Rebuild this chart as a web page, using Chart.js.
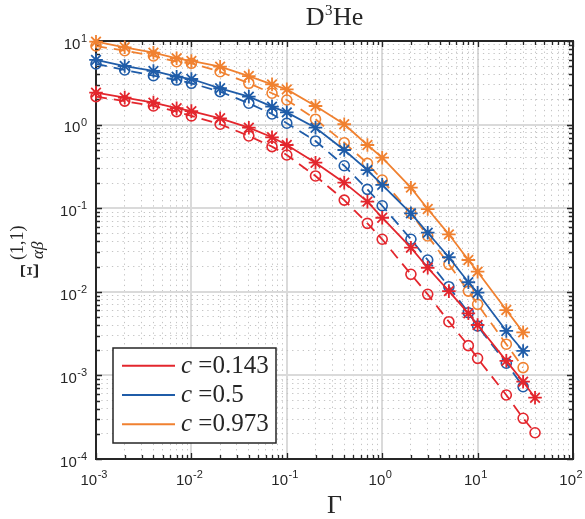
<!DOCTYPE html>
<html>
<head>
<meta charset="utf-8">
<script src="https://cdn.jsdelivr.net/npm/chart.js@4/dist/chart.umd.min.js"></script>
<style>
  html, body { margin: 0; padding: 0; background: #fff; }
  #wrap { width: 585px; height: 519px; }
</style>
</head>
<body>
<div id="wrap"><canvas id="chart" width="585" height="519"></canvas></div>
<script>
// Gamma values (x) for each family of curves
const gammaX = [0.001, 0.002, 0.004, 0.007, 0.01, 0.02, 0.04, 0.07, 0.1, 0.2, 0.4, 0.7, 1, 2, 3, 5, 8, 10, 20, 30];
const gammaXRed = [0.001, 0.002, 0.004, 0.007, 0.01, 0.02, 0.04, 0.07, 0.1, 0.2, 0.4, 0.7, 1, 2, 3, 5, 8, 10, 20, 30, 40];

// c = 0.143 (red)
const redStar = [2.41, 2.10, 1.83, 1.57, 1.45, 1.19, 0.918, 0.705, 0.570, 0.350, 0.202, 0.120, 0.0769, 0.0337, 0.0194, 0.0102, 0.00553, 0.00401, 0.00149, 0.000841, 0.000541];
const redCircle = [2.16, 1.91, 1.67, 1.43, 1.27, 1.01, 0.731, 0.545, 0.433, 0.243, 0.125, 0.0659, 0.0425, 0.0162, 0.00933, 0.00439, 0.00227, 0.00160, 0.000583, 0.000307, 0.000206];
// c = 0.5 (blue)
const blueStar = [5.93, 5.02, 4.38, 3.74, 3.51, 2.72, 2.16, 1.64, 1.40, 0.918, 0.497, 0.286, 0.190, 0.0869, 0.0509, 0.0259, 0.0130, 0.00975, 0.00340, 0.00196];
const blueCircle = [5.31, 4.50, 3.85, 3.41, 3.12, 2.48, 1.80, 1.34, 1.04, 0.637, 0.322, 0.168, 0.107, 0.0425, 0.0240, 0.0115, 0.00562, 0.00390, 0.00140, 0.000733];
// c = 0.973 (orange)
const orangeStar = [9.81, 8.41, 7.24, 6.21, 5.77, 4.93, 3.81, 3.03, 2.64, 1.67, 1.01, 0.570, 0.402, 0.176, 0.0977, 0.0487, 0.0240, 0.0174, 0.00605, 0.00327];
const orangeCircle = [8.71, 7.66, 6.62, 5.65, 5.41, 4.29, 3.12, 2.37, 1.97, 1.16, 0.607, 0.344, 0.217, 0.0869, 0.0465, 0.0213, 0.0102, 0.00708, 0.00236, 0.00124];

const legendLabels = ["0.143", "0.5", "0.973"];
const xDecades = [-3, -2, -1, 0, 1, 2];
const yDecades = [-4, -3, -2, -1, 0, 1];

const colors = { red: "#e3262d", blue: "#1f5ca8", orange: "#f08130" };
const ink = "#262626";

function points(xs, ys) {
  return ys.map((y, i) => ({ x: xs[i], y }));
}

function isMajor(v) {
  const l = Math.log10(v);
  return Math.abs(l - Math.round(l)) < 1e-9;
}

function logTicks(decades) {
  const ticks = [];
  decades.forEach((d, i) => {
    const last = i === decades.length - 1;
    for (let m = 1; m <= (last ? 1 : 9); m += 1) {
      ticks.push({ value: m * Math.pow(10, d), major: m === 1 });
    }
  });
  return ticks;
}

function starSet(label, xs, ys, color) {
  return {
    label, data: points(xs, ys), borderColor: color, backgroundColor: color,
    borderWidth: 1.8, pointStyle: "star", pointRadius: 6.8, pointBorderWidth: 1.8,
    pointBorderColor: color, tension: 0, clip: false,
  };
}

function circleSet(label, xs, ys, color) {
  return {
    label, data: points(xs, ys), borderColor: color, backgroundColor: "rgba(0,0,0,0)",
    borderWidth: 1.8, borderDash: [11, 7], pointStyle: "circle", pointRadius: 5,
    pointBorderWidth: 1.6, pointBorderColor: color, pointBackgroundColor: "rgba(0,0,0,0)",
    tension: 0, clip: false,
  };
}

function gridOptions() {
  return {
    drawTicks: false,
    color: (ctx) => (ctx.tick && isMajor(ctx.tick.value) ? "#dadada" : "#c4c4c4"),
    lineWidth: (ctx) => (ctx.tick && isMajor(ctx.tick.value) ? 2 : 1),
  };
}

function borderOptions() {
  return {
    display: false,
    dash: (ctx) => (ctx.tick && !isMajor(ctx.tick.value) ? [1.3, 4] : []),
  };
}

function drawPower(ctx, exp, x, y, mode) {
  ctx.font = '15px "Liberation Sans", Arial, sans-serif';
  const w10 = ctx.measureText("10").width;
  ctx.font = '11px "Liberation Sans", Arial, sans-serif';
  const wExp = ctx.measureText(String(exp)).width;
  const total = w10 + 0.5 + wExp;
  let start;
  let base;
  let supBase;
  if (mode === "y") {
    start = x - total;
    base = y + 7.7;
    supBase = y + 1;
  } else {
    start = x - total / 2 - 2;
    base = y;
    supBase = y - 6.8;
  }
  ctx.fillStyle = ink;
  ctx.textAlign = "left";
  ctx.textBaseline = "alphabetic";
  ctx.font = '15px "Liberation Sans", Arial, sans-serif';
  ctx.fillText("10", start, base);
  ctx.font = '11px "Liberation Sans", Arial, sans-serif';
  ctx.fillText(String(exp), start + w10 + 0.5, supBase);
}

const framePlugin = {
  id: "frame",
  beforeDatasetsDraw(chart) {
    const { ctx, chartArea: a, scales } = chart;
    ctx.save();
    ctx.strokeStyle = ink;
    ctx.lineWidth = 1.3;
    scales.x.ticks.forEach((t) => {
      const px = Math.round(scales.x.getPixelForValue(t.value)) + 0.5;
      const len = isMajor(t.value) ? 6 : 4;
      ctx.beginPath();
      ctx.moveTo(px, a.bottom); ctx.lineTo(px, a.bottom - len);
      ctx.moveTo(px, a.top); ctx.lineTo(px, a.top + len);
      ctx.stroke();
    });
    scales.y.ticks.forEach((t) => {
      const py = Math.round(scales.y.getPixelForValue(t.value)) + 0.5;
      const len = isMajor(t.value) ? 6 : 4;
      ctx.beginPath();
      ctx.moveTo(a.left, py); ctx.lineTo(a.left + len, py);
      ctx.moveTo(a.right, py); ctx.lineTo(a.right - len, py);
      ctx.stroke();
    });
    ctx.lineWidth = 2;
    ctx.strokeRect(a.left, a.top, a.right - a.left, a.bottom - a.top);
    ctx.restore();
  },
  afterDraw(chart) {
    const { ctx, chartArea: a, scales } = chart;
    ctx.save();
    xDecades.forEach((d) => drawPower(ctx, d, scales.x.getPixelForValue(Math.pow(10, d)), 484.5, "x"));
    yDecades.forEach((d) => drawPower(ctx, d, 87, scales.y.getPixelForValue(Math.pow(10, d)), "y"));

    // title
    ctx.fillStyle = ink;
    ctx.textBaseline = "alphabetic";
    ctx.textAlign = "left";
    ctx.font = '26px "Liberation Serif", serif';
    const wD = ctx.measureText("D").width;
    const wHe = ctx.measureText("He").width;
    ctx.font = '15px "Liberation Serif", serif';
    const w3 = ctx.measureText("3").width;
    const tStart = (a.left + a.right) / 2 - (wD + w3 + 1 + wHe) / 2;
    ctx.font = '26px "Liberation Serif", serif';
    ctx.fillText("D", tStart, 25);
    ctx.fillText("He", tStart + wD + w3 + 1, 25);
    ctx.font = '15px "Liberation Serif", serif';
    ctx.fillText("3", tStart + wD + 0.5, 15);

    // x label
    ctx.textAlign = "center";
    ctx.font = '26px "Liberation Serif", serif';
    ctx.fillText("Γ", (a.left + a.right) / 2, 512.5);

    // y label
    ctx.save();
    ctx.translate(38, 279);
    ctx.rotate(-Math.PI / 2);
    ctx.textAlign = "left";
    ctx.font = '25px "Liberation Serif", serif';
    const wXi = ctx.measureText("Ξ").width;
    ctx.fillText("Ξ", 0, 0);
    ctx.font = '18px "Liberation Serif", serif';
    ctx.fillText("(1,1)", wXi + 3, -15);
    ctx.font = 'italic 17px "Liberation Serif", serif';
    ctx.fillText("αβ", wXi + 4, 4.5);
    ctx.restore();

    // legend
    const lx = 113, ly = 348, lw = 163, lh = 95;
    ctx.fillStyle = "#ffffff";
    ctx.fillRect(lx, ly, lw, lh);
    ctx.strokeStyle = ink;
    ctx.lineWidth = 1.5;
    ctx.strokeRect(lx, ly, lw, lh);
    const legendColors = [colors.red, colors.blue, colors.orange];
    legendLabels.forEach((label, i) => {
      const yy = 365.7 + i * 29.3;
      ctx.strokeStyle = legendColors[i];
      ctx.lineWidth = 2;
      ctx.beginPath();
      ctx.moveTo(122, yy); ctx.lineTo(175, yy);
      ctx.stroke();
      ctx.fillStyle = ink;
      ctx.textAlign = "left";
      ctx.font = 'italic 25px "Liberation Serif", serif';
      ctx.fillText("c", 181, yy + 7);
      const wc = ctx.measureText("c").width;
      ctx.font = '25px "Liberation Serif", serif';
      ctx.fillText(" =" + label, 181 + wc, yy + 7);
    });
    ctx.restore();
  },
};

new Chart(document.getElementById("chart"), {
  type: "line",
  data: {
    datasets: [
      starSet("c=0.143 *", gammaXRed, redStar, colors.red),
      circleSet("c=0.143 o", gammaXRed, redCircle, colors.red),
      starSet("c=0.5 *", gammaX, blueStar, colors.blue),
      circleSet("c=0.5 o", gammaX, blueCircle, colors.blue),
      starSet("c=0.973 *", gammaX, orangeStar, colors.orange),
      circleSet("c=0.973 o", gammaX, orangeCircle, colors.orange),
    ],
  },
  options: {
    responsive: false,
    devicePixelRatio: 1,
    animation: false,
    events: [],
    layout: { padding: { left: 96, right: 12, top: 41, bottom: 60 } },
    plugins: { legend: { display: false }, tooltip: { enabled: false }, title: { display: false } },
    scales: {
      x: {
        type: "logarithmic", min: 0.001, max: 100,
        afterBuildTicks: (scale) => { scale.ticks = logTicks(xDecades); },
        ticks: { display: false, autoSkip: false },
        grid: gridOptions(),
        border: borderOptions(),
      },
      y: {
        type: "logarithmic", min: 0.0001, max: 10,
        afterBuildTicks: (scale) => { scale.ticks = logTicks(yDecades); },
        ticks: { display: false, autoSkip: false },
        grid: gridOptions(),
        border: borderOptions(),
      },
    },
  },
  plugins: [framePlugin],
});
</script>
</body>
</html>
